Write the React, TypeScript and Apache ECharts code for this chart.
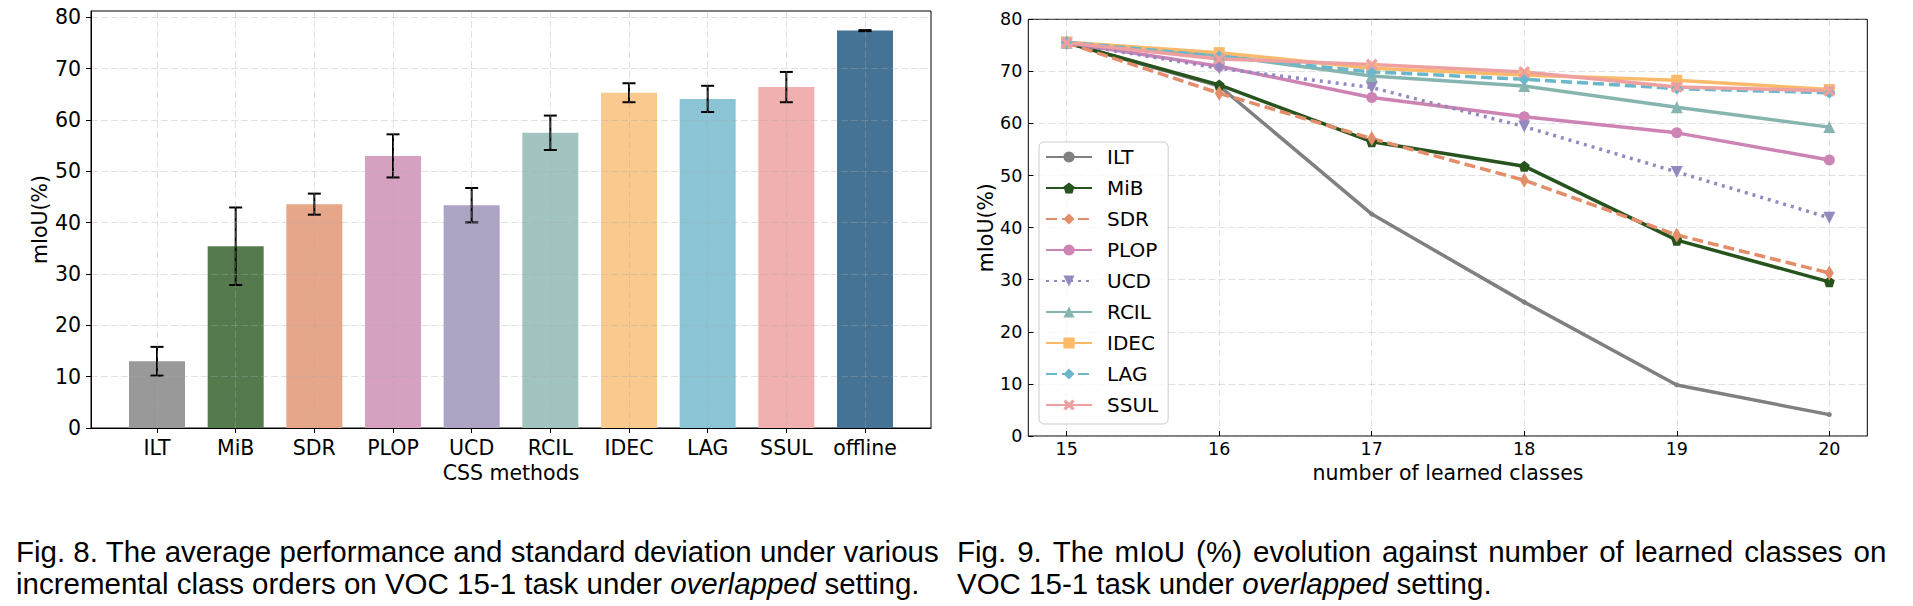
import React, { useEffect, useRef } from 'react';
import * as echarts from 'echarts';

// ---------- Fig. 8 data ----------
const methods = ['ILT', 'MiB', 'SDR', 'PLOP', 'UCD', 'RCIL', 'IDEC', 'LAG', 'SSUL', 'offline'];
const meanMiou = [13.0, 35.4, 43.6, 53.0, 43.4, 57.5, 65.3, 64.1, 66.4, 77.4];
const stdMiou = [2.8, 7.55, 2.05, 4.2, 3.35, 3.35, 1.85, 2.55, 2.95, 0.1];
const barColors = ['#999999', '#557a4e', '#e6a68a', '#d6a0c0', '#ada4c4', '#a2c4c1', '#fac98d', '#8bc4d4', '#f0b0b0', '#447395'];
const barTicks = [0, 10, 20, 30, 40, 50, 60, 70, 80];

// ---------- Fig. 9 data ----------
const learnedClasses = [15, 16, 17, 18, 19, 20];
const iltVals = [75.5, 67.2, 42.6, 25.7, 9.8, 4.1];
const mibVals = [75.5, 67.4, 56.5, 51.8, 37.6, 29.6];
const sdrVals = [75.5, 65.8, 57.1, 49.1, 38.6, 31.3];
const plopVals = [75.5, 71.0, 65.0, 61.3, 58.2, 53.0];
const ucdVals = [75.5, 70.6, 66.9, 59.4, 50.7, 41.9];
const rcilVals = [75.5, 73.1, 69.1, 67.2, 63.1, 59.3];
const idecVals = [75.6, 73.6, 70.6, 69.3, 68.3, 66.5];
const lagVals = [75.6, 72.9, 69.9, 68.5, 66.7, 65.9];
const ssulVals = [75.5, 72.4, 71.3, 69.9, 67.0, 66.3];

// ---------- captions ----------
const cap8Line1 = 'Fig. 8. The average performance and standard deviation under various';
const cap8Line2 = 'incremental class orders on VOC 15-1 task under {i|overlapped} setting.';
const cap9Line1 = 'Fig. 9. The mIoU (%) evolution against number of learned classes on';
const cap9Line2 = 'VOC 15-1 task under {i|overlapped} setting.';

const FONT = 'DejaVu Sans';
const CAP_FONT = 'Liberation Sans';

const PENTAGON = 'path://M0,-1 L0.951,-0.309 L0.588,0.809 L-0.588,0.809 L-0.951,-0.309 Z';
const XMARK = 'path://M-1,-0.6 L-0.6,-1 L0,-0.4 L0.6,-1 L1,-0.6 L0.4,0 L1,0.6 L0.6,1 L0,0.4 L-0.6,1 L-1,0.6 L-0.4,0 Z';

const lineDefs = [
  { name: 'ILT', vals: iltVals, color: '#808080', type: 'solid', symbol: 'circle', size: 5, rotate: 0 },
  { name: 'MiB', vals: mibVals, color: '#27531f', type: 'solid', symbol: PENTAGON, size: 11, rotate: 0 },
  { name: 'SDR', vals: sdrVals, color: '#e38d6a', type: [11, 5], symbol: 'diamond', size: [9, 15], rotate: 0 },
  { name: 'PLOP', vals: plopVals, color: '#cd83b3', type: 'solid', symbol: 'circle', size: 11, rotate: 0 },
  { name: 'UCD', vals: ucdVals, color: '#9489bf', type: [3, 5], symbol: 'triangle', size: 12, rotate: 180 },
  { name: 'RCIL', vals: rcilVals, color: '#86b5b0', type: 'solid', symbol: 'triangle', size: 12, rotate: 0 },
  { name: 'IDEC', vals: idecVals, color: '#fbb96a', type: 'solid', symbol: 'rect', size: 11, rotate: 0 },
  { name: 'LAG', vals: lagVals, color: '#6ab6cb', type: [11, 5], symbol: 'diamond', size: 12, rotate: 0 },
  { name: 'SSUL', vals: ssulVals, color: '#eea0a0', type: 'solid', symbol: XMARK, size: 12, rotate: 0 },
];

const gridLine = { show: true, lineStyle: { color: 'rgba(170,170,170,0.35)', type: [7, 3], width: 1 } };
const blackLine = { color: '#000', width: 1 };

// justified first line: spaces rendered as slightly wider tokens
const justify = (s: string) => s.split(' ').join('{s| }');

export default function App() {
  const ref = useRef<HTMLDivElement>(null);
  useEffect(() => {
    const chart = echarts.init(ref.current!, null, { renderer: 'svg' });
    const base = { fontFamily: CAP_FONT, fontSize: 29.5, color: '#000', lineHeight: 32 };
    const capStyle = {
      ...base,
      fontWeight: 'normal',
      rich: {
        i: { ...base, fontStyle: 'italic' },
        s: { ...base, width: 11 },
      },
    };
    const option: any = {
      animation: false,
      backgroundColor: '#fff',
      title: [
        { text: cap8Line1 + '\n' + cap8Line2, left: 16, top: 535, padding: 0, textStyle: capStyle },
        { text: justify(cap9Line1) + '\n' + cap9Line2, left: 957, top: 535, padding: 0, textStyle: capStyle },
      ],
      grid: [
        { left: 91, top: 11, right: 982, bottom: 178, show: true, borderColor: '#000', borderWidth: 1, backgroundColor: 'transparent' },
        { left: 91, top: 17.3, right: 982, bottom: 178 },
        { left: 157, top: 11, right: 1048, bottom: 178 },
        { left: 1028.3, top: 19.3, right: 45.7, bottom: 170, show: true, borderColor: '#000', borderWidth: 1, backgroundColor: 'transparent' },
        { left: 1066.7, top: 19.3, right: 83.7, bottom: 170 },
      ],
      xAxis: [
        {
          gridIndex: 0, type: 'value', min: 0, max: 1, z: 10,
          axisLine: { show: true, lineStyle: blackLine }, axisTick: { show: false }, axisLabel: { show: false }, splitLine: { show: false },
        },
        { gridIndex: 1, type: 'value', min: 0, max: 1, show: false },
        {
          gridIndex: 2, type: 'value', min: 0, max: 9, interval: 1, z: 5,
          axisLine: { show: false },
          axisTick: { show: true, length: 5, inside: false, lineStyle: blackLine },
          axisLabel: { formatter: (v: number) => methods[Math.round(v)] ?? '', fontFamily: FONT, fontSize: 20.5, color: '#000', margin: 9 },
          splitLine: gridLine,
          name: 'CSS methods', nameLocation: 'middle', nameGap: 33,
          nameTextStyle: { fontFamily: FONT, fontSize: 20.5, color: '#000' },
        },
        { gridIndex: 3, type: 'value', min: 0, max: 1, show: false },
        {
          gridIndex: 4, type: 'value', min: 15, max: 20, interval: 1,
          axisLine: { show: false },
          axisTick: { show: true, length: 5, inside: true, lineStyle: blackLine },
          axisLabel: { fontFamily: FONT, fontSize: 17.5, color: '#000', margin: 4 },
          splitLine: gridLine,
          name: 'number of learned classes', nameLocation: 'middle', nameGap: 25,
          nameTextStyle: { fontFamily: FONT, fontSize: 20.5, color: '#000' },
        },
      ],
      yAxis: [
        {
          gridIndex: 0, type: 'value', min: 0, max: 1, z: 10,
          axisLine: { show: true, lineStyle: blackLine }, axisTick: { show: false }, axisLabel: { show: false }, splitLine: { show: false },
          name: 'mIoU(%)', nameLocation: 'middle', nameGap: 41, nameRotate: 90,
          nameTextStyle: { fontFamily: FONT, fontSize: 20.5, color: '#000' },
        },
        {
          gridIndex: 1, type: 'value', min: barTicks[0], max: barTicks[barTicks.length - 1], interval: 10, z: 5,
          axisLine: { show: false },
          axisTick: { show: true, length: 5, inside: false, lineStyle: blackLine },
          axisLabel: { fontFamily: FONT, fontSize: 20.5, color: '#000', margin: 10 },
          splitLine: gridLine,
        },
        { gridIndex: 2, type: 'value', min: 0, max: 81.22, show: false },
        {
          gridIndex: 3, type: 'value', min: 0, max: 80, interval: 10,
          axisLine: { show: false },
          axisTick: { show: true, length: 5, inside: true, lineStyle: blackLine },
          axisLabel: { fontFamily: FONT, fontSize: 17.5, color: '#000', margin: 6 },
          splitLine: gridLine,
          name: 'mIoU(%)', nameLocation: 'middle', nameGap: 32, nameRotate: 90,
          nameTextStyle: { fontFamily: FONT, fontSize: 20.5, color: '#000' },
        },
        { gridIndex: 4, type: 'value', min: 0, max: 80, show: false },
      ],
      legend: {
        orient: 'vertical', left: 1039, top: 142,
        padding: [5, 10, 9, 6], itemWidth: 46, itemHeight: 14, itemGap: 11,
        backgroundColor: 'rgba(255,255,255,0.8)', borderColor: '#cccccc', borderWidth: 1, borderRadius: 5,
        textStyle: { fontFamily: FONT, fontSize: 20, color: '#000', lineHeight: 20, padding: [0, 0, 0, 10] },
        selectedMode: false,
        data: lineDefs.map((d) => d.name),
      },
      series: [
        {
          type: 'bar', xAxisIndex: 2, yAxisIndex: 2, barWidth: 56, clip: false, silent: true,
          data: methods.map((m, i) => ({ value: [i, meanMiou[i]], itemStyle: { color: barColors[i] } })),
        },
        {
          type: 'custom', xAxisIndex: 2, yAxisIndex: 2, z: 4, silent: true,
          data: methods.map((m, i) => [i, meanMiou[i], stdMiou[i]]),
          encode: { x: 0, y: 1 },
          renderItem: (params: any, api: any) => {
            const x = api.value(0);
            const m = api.value(1);
            const s = api.value(2);
            const top = api.coord([x, m + s]);
            const bot = api.coord([x, m - s]);
            const cap = 6.5;
            const st = { stroke: '#000', lineWidth: 2 };
            return {
              type: 'group',
              children: [
                { type: 'line', shape: { x1: top[0], y1: top[1], x2: bot[0], y2: bot[1] }, style: st },
                { type: 'line', shape: { x1: top[0] - cap, y1: top[1], x2: top[0] + cap, y2: top[1] }, style: st },
                { type: 'line', shape: { x1: bot[0] - cap, y1: bot[1], x2: bot[0] + cap, y2: bot[1] }, style: st },
              ],
            };
          },
        },
        ...lineDefs.map((d) => ({
          type: 'line', name: d.name, xAxisIndex: 4, yAxisIndex: 4, clip: false, silent: true,
          data: learnedClasses.map((x, i) => [x, d.vals[i]]),
          symbol: d.symbol, symbolSize: d.size, symbolRotate: d.rotate, showSymbol: true,
          lineStyle: { color: d.color, width: 3.5, type: d.type, cap: 'butt' },
          itemStyle: { color: d.color, borderWidth: 0 },
          emphasis: { disabled: true },
        })),
      ],
    };
    chart.setOption(option);
    return () => chart.dispose();
  }, []);
  return (
    <div
      ref={ref}
      style={{ position: 'fixed', left: 0, top: 0, width: 1913, height: 606, background: '#fff' }}
    />
  );
}
